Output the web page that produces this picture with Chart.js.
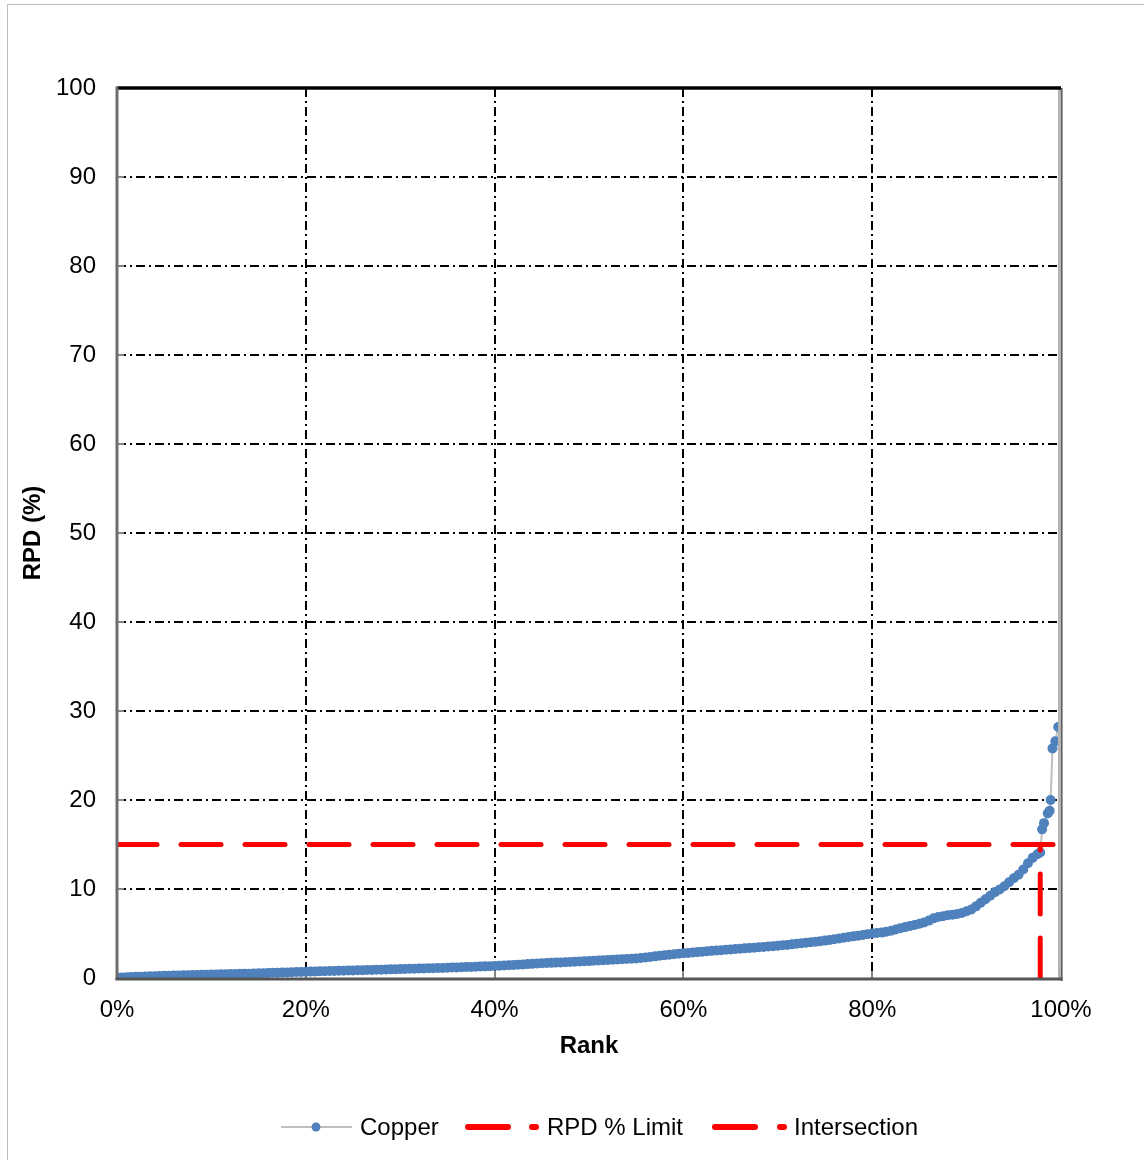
<!DOCTYPE html>
<html>
<head>
<meta charset="utf-8">
<script src="https://cdn.jsdelivr.net/npm/chart.js@4"></script>
<style>
  html, body { margin: 0; padding: 0; background: #ffffff; }
  #wrap { position: relative; width: 1144px; height: 1160px; }
  canvas { display: block; }
</style>
</head>
<body>
<div id="wrap"><canvas id="c" width="1144" height="1160"></canvas></div>
<script>
// ---- Data ----
// Sorted RPD values for the main body of the curve, at rank steps of 0.5 %
const bodyRankStep = 0.5;
const bodyRpd = [
  0.05,0.07,0.09,0.11,0.13,0.15,0.17,0.19,0.21,0.23,
  0.25,0.26,0.28,0.29,0.30,0.32,0.33,0.34,0.36,0.37,
  0.38,0.40,0.41,0.42,0.44,0.45,0.47,0.48,0.49,0.51,
  0.52,0.54,0.56,0.58,0.60,0.61,0.63,0.65,0.67,0.68,
  0.70,0.72,0.73,0.75,0.76,0.78,0.79,0.81,0.82,0.84,
  0.85,0.87,0.88,0.90,0.91,0.93,0.94,0.96,0.97,0.99,
  1.00,1.01,1.03,1.04,1.06,1.07,1.09,1.10,1.12,1.13,
  1.15,1.17,1.19,1.21,1.23,1.25,1.27,1.29,1.31,1.33,
  1.35,1.38,1.41,1.44,1.47,1.50,1.53,1.56,1.59,1.62,
  1.65,1.68,1.70,1.73,1.75,1.78,1.80,1.83,1.85,1.88,
  1.90,1.93,1.96,1.99,2.02,2.05,2.08,2.11,2.14,2.17,
  2.20,2.25,2.31,2.37,2.43,2.49,2.55,2.61,2.67,2.72,
  2.78,2.82,2.87,2.91,2.96,3.00,3.05,3.09,3.13,3.17,
  3.21,3.25,3.29,3.33,3.37,3.41,3.45,3.49,3.53,3.57,
  3.62,3.67,3.72,3.78,3.84,3.90,3.96,4.02,4.08,4.14,
  4.20,4.28,4.36,4.44,4.52,4.60,4.68,4.76,4.84,4.92,
  5.00,5.05,5.10,5.20,5.30,5.45,5.60,5.72,5.84,5.96,
  6.10,6.25,6.45,6.70,6.85,6.95,7.05,7.12,7.20,7.30,
  7.50,7.70,8.05,8.45,8.85,9.25,9.65,9.95,10.30,10.75,
  11.20,11.60,12.20,12.90,13.50,13.90
];
// Sparse upper tail, rank (%) and RPD (%)
const tailRank = [97.8, 98.0, 98.2, 98.6, 98.8, 98.9, 99.1, 99.4, 99.7];
const tailRpd  = [14.1, 16.7, 17.4, 18.5, 18.8, 20.0, 25.8, 26.6, 28.2];

const rpdLimit = 15;
const limitRankStart = 0;
const limitRankEnd = 99.7;
const intersectionRank = 97.8;

const xTicks = [0, 20, 40, 60, 80, 100];
const yTicks = [0, 10, 20, 30, 40, 50, 60, 70, 80, 90, 100];

const seriesNames = ['Copper', 'RPD % Limit', 'Intersection'];
const axisTitles = { x: 'Rank', y: 'RPD (%)' };

// ---- Build datasets ----
const copperData = bodyRpd.map((v, i) => ({ x: i * bodyRankStep, y: v }))
  .concat(tailRank.map((r, i) => ({ x: r, y: tailRpd[i] })));
const limitData = [{ x: limitRankStart, y: rpdLimit }, { x: limitRankEnd, y: rpdLimit }];
const interData = [{ x: intersectionRank, y: 0 }, { x: intersectionRank, y: rpdLimit }];

const FONT = '"Liberation Sans", Arial, sans-serif';
const BLUE = '#4f81bd';
const RED = '#ff0000';

// Grid, frame and tick marks
const framePlugin = {
  id: 'frame',
  beforeDatasetsDraw(chart) {
    const { ctx, chartArea: a, scales: { x, y } } = chart;
    ctx.save();
    ctx.strokeStyle = '#000000';
    ctx.lineWidth = 2;
    ctx.setLineDash([9, 4, 2, 4]);
    yTicks.forEach(v => {
      if (v === 0 || v === 100) return;
      const py = Math.round(y.getPixelForValue(v));
      ctx.beginPath(); ctx.moveTo(a.left, py); ctx.lineTo(a.right, py); ctx.stroke();
    });
    xTicks.forEach(v => {
      if (v === 0 || v === 100) return;
      const px = Math.round(x.getPixelForValue(v));
      ctx.beginPath(); ctx.moveTo(px, a.top); ctx.lineTo(px, a.bottom); ctx.stroke();
    });
    ctx.setLineDash([]);
    // tick marks (inside)
    ctx.strokeStyle = '#868686';
    ctx.lineWidth = 2;
    yTicks.forEach(v => {
      const py = Math.round(y.getPixelForValue(v));
      ctx.beginPath(); ctx.moveTo(a.left, py); ctx.lineTo(a.left + 7, py); ctx.stroke();
    });
    xTicks.forEach(v => {
      const px = Math.round(x.getPixelForValue(v));
      ctx.beginPath(); ctx.moveTo(px, a.bottom); ctx.lineTo(px, a.bottom - 7); ctx.stroke();
    });
    ctx.restore();
  },
  afterDatasetsDraw(chart) {
    const { ctx, chartArea: a } = chart;
    ctx.save();
    // right border: light gray with dark edge
    ctx.strokeStyle = '#b4b4b4'; ctx.lineWidth = 3;
    ctx.beginPath(); ctx.moveTo(a.right - 1.5, a.top); ctx.lineTo(a.right - 1.5, a.bottom + 2); ctx.stroke();
    ctx.strokeStyle = '#555555'; ctx.lineWidth = 1.5;
    ctx.beginPath(); ctx.moveTo(a.right + 0.8, a.top); ctx.lineTo(a.right + 0.8, a.bottom + 3); ctx.stroke();
    // top border: black
    ctx.strokeStyle = '#000000'; ctx.lineWidth = 3.5;
    ctx.beginPath(); ctx.moveTo(a.left, a.top); ctx.lineTo(a.right, a.top); ctx.stroke();
    // left axis
    ctx.strokeStyle = '#6e6e6e'; ctx.lineWidth = 3;
    ctx.beginPath(); ctx.moveTo(a.left, a.top - 1.5); ctx.lineTo(a.left, a.bottom + 1.5); ctx.stroke();
    // bottom axis
    ctx.strokeStyle = '#555555'; ctx.lineWidth = 3;
    ctx.beginPath(); ctx.moveTo(a.left - 1.5, a.bottom + 1); ctx.lineTo(a.right + 1.5, a.bottom + 1); ctx.stroke();
    ctx.restore();
  },
  afterDraw(chart) {
    const { ctx } = chart;
    ctx.save();
    // outer chart border
    ctx.strokeStyle = '#bdbdbd'; ctx.lineWidth = 1;
    ctx.strokeRect(7.5, 4.5, 1200, 1200);
    // legend
    const ly = 1127;
    ctx.font = '24px ' + FONT;
    ctx.fillStyle = '#000000';
    ctx.textBaseline = 'middle';
    ctx.textAlign = 'left';
    // Copper
    ctx.strokeStyle = '#bfbfbf'; ctx.lineWidth = 2;
    ctx.beginPath(); ctx.moveTo(281, ly); ctx.lineTo(352, ly); ctx.stroke();
    ctx.fillStyle = BLUE;
    ctx.beginPath(); ctx.arc(316, ly, 4.5, 0, Math.PI * 2); ctx.fill();
    ctx.fillStyle = '#000000';
    ctx.fillText(seriesNames[0], 360, ly + 1);
    // RPD % Limit & Intersection
    const reds = [[465, 511, 534, 547, seriesNames[1]], [712, 758, 782, 794, seriesNames[2]]];
    reds.forEach(([x0, x1, dx, tx, label]) => {
      ctx.strokeStyle = RED; ctx.lineWidth = 6; ctx.lineCap = 'round';
      ctx.beginPath(); ctx.moveTo(x0 + 3, ly); ctx.lineTo(x1 - 3, ly); ctx.stroke();
      ctx.beginPath(); ctx.moveTo(dx - 2, ly); ctx.lineTo(dx + 2, ly); ctx.stroke();
      ctx.fillStyle = '#000000';
      ctx.fillText(label, tx, ly + 1);
    });
    ctx.restore();
  }
};

new Chart(document.getElementById('c'), {
  type: 'scatter',
  data: {
    datasets: [
      {
        label: seriesNames[0],
        data: copperData,
        showLine: true,
        borderColor: '#bfbfbf',
        borderWidth: 2,
        pointRadius: 5,
        pointBackgroundColor: BLUE,
        pointBorderWidth: 0,
        order: 3
      },
      {
        label: seriesNames[1],
        data: limitData,
        showLine: true,
        borderColor: RED,
        borderWidth: 5,
        borderDash: [40, 24],
        borderCapStyle: 'round',
        pointRadius: 0,
        order: 1
      },
      {
        label: seriesNames[2],
        data: interData,
        showLine: true,
        borderColor: RED,
        borderWidth: 5,
        borderDash: [40, 24],
        borderCapStyle: 'round',
        pointRadius: 0,
        order: 2
      }
    ]
  },
  options: {
    responsive: false,
    animation: false,
    events: [],
    layout: { padding: { top: 88, right: 83, left: 13, bottom: 94 } },
    plugins: { legend: { display: false }, tooltip: { enabled: false } },
    scales: {
      x: {
        type: 'linear', min: 0, max: 100,
        afterBuildTicks: s => { s.ticks = xTicks.map(v => ({ value: v })); },
        afterFit: s => { s.height = 88; },
        grid: { display: false, drawTicks: false },
        border: { display: false },
        ticks: {
          padding: 18, color: '#000000', maxRotation: 0,
          font: { family: FONT, size: 24 },
          callback: v => v + '%'
        },
        title: {
          display: true, text: axisTitles.x, color: '#000000',
          font: { family: FONT, size: 24, weight: 'bold' },
          padding: { top: 0, bottom: 5 }
        }
      },
      y: {
        type: 'linear', min: 0, max: 100,
        afterBuildTicks: s => { s.ticks = yTicks.map(v => ({ value: v })); },
        afterFit: s => { s.width = 104; },
        grid: { display: false, drawTicks: false },
        border: { display: false },
        ticks: {
          padding: 21, color: '#000000',
          font: { family: FONT, size: 24 }
        },
        title: {
          display: true, text: axisTitles.y, color: '#000000',
          font: { family: FONT, size: 24, weight: 'bold' },
          padding: { top: 6, bottom: 0 }
        }
      }
    }
  },
  plugins: [framePlugin]
});
</script>
</body>
</html>
